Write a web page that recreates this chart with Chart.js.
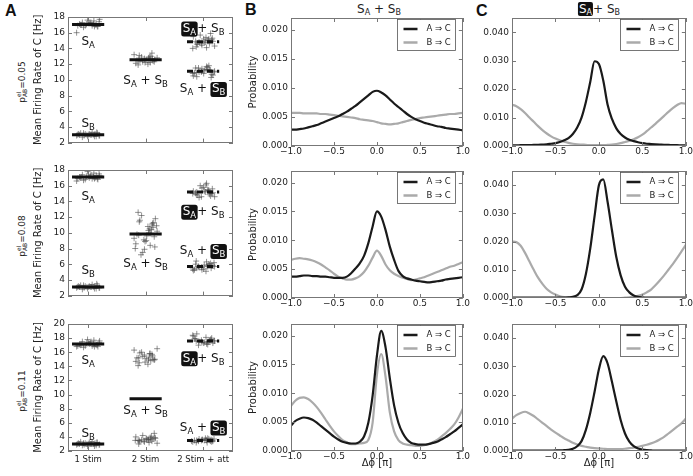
<!DOCTYPE html>
<html>
<head>
<meta charset="utf-8">
<script src="https://cdn.jsdelivr.net/npm/chart.js@4.4.1/dist/chart.umd.min.js"></script>
<style>
body{margin:0;background:#fff;width:693px;height:476px;overflow:hidden;position:relative;font-family:"DejaVu Sans",sans-serif;color:#222}
canvas{position:absolute}
.letter{position:absolute;font:bold 16px "Liberation Sans",Arial,sans-serif;color:#111}
.rowlbl{position:absolute;font-size:9px;transform:translate(-50%,-50%) rotate(-90deg);white-space:nowrap}
.title{position:absolute;font-size:12px;transform:translateX(-50%);white-space:nowrap}
.title sub{font-size:8px;vertical-align:-2px}
.bx{background:#111;color:#fff;border-radius:2px;padding:0 1px}
.ss{display:inline-flex;flex-direction:column;font-size:6px;line-height:6px;vertical-align:middle}
</style>
</head>
<body>
<div class="letter" style="left:5px;top:2px">A</div>
<div class="letter" style="left:245px;top:1px">B</div>
<div class="letter" style="left:476px;top:2px">C</div>
<div class="title" style="left:379px;top:2px">S<sub>A</sub> + S<sub>B</sub></div>
<div class="title" style="left:599px;top:2px"><span class="bx">S<sub>A</sub></span>+ S<sub>B</sub></div>
<div class="rowlbl" style="left:22px;top:82px">p<span class="ss"><span>el</span><span>AB</span></span>=0.05</div>
<div class="rowlbl" style="left:22px;top:236px">p<span class="ss"><span>el</span><span>AB</span></span>=0.08</div>
<div class="rowlbl" style="left:22px;top:391px">p<span class="ss"><span>el</span><span>AB</span></span>=0.11</div>

<script>
// ---------- panel A : firing rates ----------
var aCategories = ['1 Stim', '2 Stim', '2 Stim + att'];
var aJitter = [-0.12,0.05,0.17,-0.03,0.10,-0.18,0.02,0.14,-0.08,0.19,-0.15,0.07,-0.01,0.12,-0.20,0.04,
               0.16,-0.10,0.09,-0.05,0.20,-0.13,0.01,0.11,-0.17,0.06,-0.07,0.15,-0.02,0.13,-0.11,0.08];

// row 1  (p = 0.05)
var r1SA   = [17.0,17.3,16.8,17.1,17.5,16.9,17.2,17.0,16.7,17.4,17.1,16.9,17.6,17.0,16.0,17.2,16.8,17.3,17.1,16.9,17.7,17.0,17.2,16.8];
var r1SB   = [3.0,3.1,2.8,3.2,2.9,3.0,3.3,2.8,3.1,2.9,3.0,3.2,2.7,3.0,3.1,2.9,3.2,3.0,2.8,3.1,3.0,2.9,3.3,3.0];
var r1Sum  = [12.5,12.9,12.2,12.7,13.2,12.0,12.6,12.4,13.0,12.3,12.8,11.9,12.6,13.4,12.1,12.5,12.9,12.3,12.7,12.4,13.1,12.2,12.6,12.8];
var r1AttA = [14.8,15.3,14.5,15.0,15.7,14.3,14.9,15.2,14.6,15.5,14.1,14.8,15.1,14.4,15.9,14.7,15.0,14.2,15.4,14.9,14.6,15.2,14.0,14.8];
var r1AttB = [11.1,11.5,10.8,11.3,10.5,11.7,11.0,10.7,11.4,11.2,10.4,11.6,10.9,11.3,10.6,11.0,11.8,10.8,11.2,10.3,11.5,11.0,10.9,11.3];
var r1Means = [[1,17.05],[1,3.0],[2,12.55],[3,14.85],[3,11.1]];
var r1Labels = [[1,14.9,'SA'],[1,4.5,'SB'],[2,10.0,'SA+SB'],[3,16.6,'[SA]+SB'],[3,8.9,'SA+[SB]']];

// row 2  (p = 0.08)
var r2SA   = [17.1,17.4,16.8,17.2,17.6,16.9,17.0,17.3,16.7,17.5,17.1,16.9,17.8,17.0,16.6,17.2,16.9,17.4,17.1,16.8,17.3,17.0,17.2,16.9];
var r2SB   = [3.1,3.2,2.9,3.3,3.0,3.1,3.4,2.9,3.2,3.0,3.1,3.3,2.8,3.1,3.2,3.0,3.3,3.1,2.9,3.2,3.1,3.0,3.5,3.1];
var r2Sum  = [9.8,10.5,8.9,11.2,9.3,10.8,8.2,11.6,9.9,7.5,10.2,12.6,9.0,11.0,8.6,10.0,12.2,9.5,7.9,10.7,11.4,8.4,9.7,10.3,
              11.8,9.1,10.4,8.0,9.6,11.3,7.2,10.9];
var r2AttA = [15.2,15.6,14.8,15.4,16.0,14.6,15.1,15.8,14.9,15.3,16.3,14.5,15.0,15.7,14.7,15.2,15.5,14.9,16.1,15.1,14.6,15.4,15.0,15.3];
var r2AttB = [5.7,6.0,5.4,5.9,5.2,6.3,5.6,5.8,5.3,6.1,5.5,5.7,6.4,5.1,5.8,5.6,6.0,5.4,5.9,5.5,5.7,6.2,5.3,5.8];
var r2Means = [[1,17.1],[1,3.1],[2,9.85],[3,15.2],[3,5.7]];
var r2Labels = [[1,14.7,'SA'],[1,5.3,'SB'],[2,6.1,'SA+SB'],[3,12.75,'[SA]+SB'],[3,7.75,'SA+[SB]']];

// row 3  (p = 0.11)
var r3SA    = [17.1,17.5,16.8,17.3,17.7,16.9,17.2,17.0,16.7,17.4,17.1,16.9,17.8,17.2,16.8,17.3,17.0,17.5,17.1,16.9,17.6,17.0,17.3,16.8];
var r3SB    = [3.0,3.2,2.8,3.1,2.9,3.0,3.3,2.7,3.1,2.9,3.0,3.2,2.8,3.0,3.1,2.9,3.3,3.0,2.7,3.1,3.0,2.9,3.2,3.0];
var r3SumHi = [15.2,15.8,14.6,15.5,16.3,14.3,15.0,15.9,14.8,15.4,16.5,14.1,15.1,15.7,14.7,15.3,16.0,14.9,15.6,15.0,14.5,15.8,15.2,14.9];
var r3SumLo = [3.6,3.9,3.3,3.7,4.2,3.1,3.5,3.8,3.4,4.0,3.2,3.6,4.5,3.3,3.7,3.5,3.9,3.0,3.6,3.8,3.4,4.1,3.5,3.7];
var r3AttA  = [17.6,17.9,17.3,17.7,18.3,17.2,17.5,18.0,17.4,17.8,18.6,17.1,17.6,18.1,17.3,17.7,17.5,18.4,17.4,17.8,17.0,17.6,17.9,17.5];
var r3AttB  = [3.5,3.7,3.3,3.6,3.4,3.5,3.8,3.2,3.6,3.4,3.5,3.7,3.3,3.5,3.6,3.4,3.7,3.5,3.2,3.6,3.5,3.4,3.8,3.5];
var r3Means = [[1,17.15],[1,3.0],[2,9.4],[3,17.6],[3,3.5]];
var r3Labels = [[1,14.9,'SA'],[1,4.5,'SB'],[2,7.8,'SA+SB'],[3,15.2,'[SA]+SB'],[3,5.4,'SA+[SB]']];

// ---------- panels B and C : phase difference distributions ----------
var phi = [-1,-0.95,-0.9,-0.85,-0.8,-0.75,-0.7,-0.65,-0.6,-0.55,-0.5,-0.45,-0.4,-0.35,-0.3,-0.25,-0.2,-0.15,-0.1,-0.05,
           0,0.05,0.1,0.15,0.2,0.25,0.3,0.35,0.4,0.45,0.5,0.55,0.6,0.65,0.7,0.75,0.8,0.85,0.9,0.95,1];

var bAC1 = [0.0028,0.0028,0.0029,0.0030,0.0032,0.0034,0.0036,0.0039,0.0042,0.0045,
            0.0048,0.0051,0.0055,0.0059,0.0064,0.0069,0.0075,0.0081,0.0087,0.0093,
            0.0095,0.0092,0.0087,0.0080,0.0073,0.0067,0.0061,0.0055,0.0050,0.0046,
            0.0043,0.0040,0.0038,0.0036,0.0034,0.0033,0.0031,0.0030,0.0029,0.0028,0.0027];
var bBC1 = [0.0057,0.0057,0.0057,0.0056,0.0056,0.0056,0.0056,0.0055,0.0055,0.0054,
            0.0053,0.0052,0.0051,0.0050,0.0049,0.0048,0.0046,0.0045,0.0044,0.0043,
            0.0041,0.0039,0.0038,0.0037,0.0038,0.0039,0.0041,0.0043,0.0045,0.0046,
            0.0048,0.0049,0.0050,0.0051,0.0052,0.0053,0.0054,0.0055,0.0055,0.0056,0.0057];
var cAC1 = [0.0002,0.0002,0.0003,0.0003,0.0003,0.0004,0.0004,0.0005,0.0006,0.0008,
            0.0010,0.0014,0.0020,0.0028,0.0042,0.0065,0.0100,0.0155,0.0225,0.0298,
            0.0288,0.0230,0.0145,0.0095,0.0062,0.0042,0.0030,0.0022,0.0017,0.0013,
            0.0010,0.0008,0.0007,0.0006,0.0005,0.0004,0.0004,0.0003,0.0003,0.0002,0.0002];
var cBC1 = [0.0145,0.0140,0.0130,0.0116,0.0100,0.0085,0.0070,0.0056,0.0044,0.0034,
            0.0026,0.0020,0.0015,0.0011,0.0008,0.0006,0.0005,0.0004,0.0003,0.0003,
            0.0003,0.0003,0.0004,0.0005,0.0007,0.0010,0.0014,0.0018,0.0024,0.0031,
            0.0040,0.0052,0.0065,0.0078,0.0092,0.0106,0.0120,0.0133,0.0144,0.0151,0.0148];

var bAC2 = [0.0037,0.0037,0.0038,0.0039,0.0039,0.0038,0.0038,0.0037,0.0037,0.0036,
            0.0035,0.0035,0.0035,0.0037,0.0043,0.0051,0.0060,0.0073,0.0095,0.0124,
            0.0150,0.0141,0.0118,0.0089,0.0066,0.0047,0.0038,0.0034,0.0032,0.0030,
            0.0029,0.0028,0.0027,0.0028,0.0029,0.0030,0.0032,0.0033,0.0034,0.0035,0.0036];
var bBC2 = [0.0066,0.0068,0.0069,0.0068,0.0067,0.0065,0.0062,0.0058,0.0053,0.0048,
            0.0042,0.0037,0.0034,0.0032,0.0032,0.0034,0.0038,0.0045,0.0056,0.0070,
            0.0082,0.0073,0.0058,0.0048,0.0042,0.0038,0.0035,0.0033,0.0031,0.0032,
            0.0034,0.0036,0.0039,0.0042,0.0045,0.0048,0.0051,0.0054,0.0056,0.0059,0.0062];
var cAC2 = [0.0001,0.0001,0.0001,0.0001,0.0001,0.0001,0.0001,0.0001,0.0001,0.0001,
            0.0001,0.0001,0.0001,0.0002,0.0004,0.0010,0.0030,0.0085,0.0175,0.0290,
            0.0400,0.0420,0.0340,0.0240,0.0145,0.0080,0.0040,0.0020,0.0009,0.0004,
            0.0002,0.0001,0.0001,0.0001,0.0001,0.0001,0.0001,0.0001,0.0001,0.0001,0.0001];
var cBC2 = [0.0200,0.0198,0.0185,0.0160,0.0130,0.0100,0.0072,0.0050,0.0032,0.0020,
            0.0012,0.0006,0.0003,0.0002,0.0001,0.0001,0.0000,0.0000,0.0000,0.0000,
            0.0000,0.0000,0.0000,0.0000,0.0000,0.0000,0.0001,0.0002,0.0005,0.0008,
            0.0012,0.0020,0.0030,0.0045,0.0062,0.0080,0.0100,0.0120,0.0142,0.0165,0.0188];

var bAC3 = [0.0044,0.0052,0.0056,0.0058,0.0057,0.0054,0.0049,0.0043,0.0037,0.0031,
            0.0025,0.0020,0.0016,0.0014,0.0013,0.0013,0.0016,0.0025,0.0049,0.0096,
            0.0165,0.0208,0.0180,0.0126,0.0079,0.0049,0.0031,0.0020,0.0014,0.0012,
            0.0011,0.0011,0.0012,0.0014,0.0016,0.0020,0.0024,0.0029,0.0034,0.0040,0.0046];
var bBC3 = [0.0078,0.0087,0.0092,0.0093,0.0090,0.0084,0.0076,0.0066,0.0055,0.0044,
            0.0034,0.0026,0.0019,0.0015,0.0012,0.0012,0.0013,0.0014,0.0019,0.0049,
            0.0132,0.0168,0.0129,0.0067,0.0034,0.0019,0.0013,0.0011,0.0010,0.0009,
            0.0009,0.0010,0.0012,0.0015,0.0019,0.0025,0.0031,0.0038,0.0046,0.0058,0.0073];
var cAC3 = [0.0001,0.0001,0.0001,0.0001,0.0001,0.0001,0.0001,0.0001,0.0001,0.0001,
            0.0002,0.0002,0.0003,0.0004,0.0008,0.0017,0.0035,0.0075,0.0135,0.0210,
            0.0290,0.0336,0.0310,0.0245,0.0175,0.0110,0.0062,0.0033,0.0017,0.0009,
            0.0005,0.0003,0.0002,0.0001,0.0001,0.0001,0.0001,0.0001,0.0001,0.0001,0.0001];
var cBC3 = [0.0115,0.0127,0.0135,0.0139,0.0133,0.0124,0.0112,0.0100,0.0088,0.0076,
            0.0065,0.0055,0.0045,0.0037,0.0029,0.0023,0.0018,0.0015,0.0012,0.0010,
            0.0009,0.0008,0.0007,0.0007,0.0007,0.0007,0.0008,0.0010,0.0012,0.0015,
            0.0018,0.0022,0.0027,0.0033,0.0041,0.0050,0.0062,0.0074,0.0086,0.0098,0.0115];

var seriesNames = ['A \u21D2 C', 'B \u21D2 C'];

Chart.defaults.font.family = '"DejaVu Sans", sans-serif';
Chart.defaults.font.size = 9;
Chart.defaults.color = '#222';

var FRAME = '#777';
var FONT = '"DejaVu Sans", sans-serif';
var BIG = '12px ' + FONT, SMALL = '8.5px ' + FONT;

function makeCanvas(L, T, W, H) {
	var c = document.createElement('canvas');
	c.width = W; c.height = H;
	c.style.left = L + 'px'; c.style.top = T + 'px';
	document.body.appendChild(c);
	return c.getContext('2d');
}

// one term "S_A" / "S_B", optionally in a black box; returns its width
function drawTerm(ctx, x, base, sub, boxed, measureOnly) {
	ctx.font = BIG;
	var ws = ctx.measureText('S').width;
	ctx.font = SMALL;
	var wb = ctx.measureText(sub).width;
	var w = ws + wb + (boxed ? 2 : 0);
	if (measureOnly) return w;
	if (boxed) {
		ctx.fillStyle = '#111';
		ctx.beginPath();
		ctx.roundRect(x - 0.5, base - 10.5, w + 1, 15, 2.5);
		ctx.fill();
		ctx.fillStyle = '#fff';
		x += 1;
	} else ctx.fillStyle = '#111';
	ctx.font = BIG;
	ctx.fillText('S', x, base);
	ctx.font = SMALL;
	ctx.fillText(sub, x + ws, base + 3);
	return w;
}

function drawLabel(ctx, cx, cy, code) {
	var parts = code.split('+');
	var seps = [];
	var total = 0;
	parts.forEach(function (p, i) {
		total += drawTerm(ctx, 0, 0, p.indexOf('A') >= 0 ? 'A' : 'B', p.charAt(0) === '[', true);
		if (i > 0) {
			var s = parts[i - 1].charAt(0) === '[' ? '+ ' : ' + ';
			ctx.font = BIG;
			seps.push(s);
			total += ctx.measureText(s).width;
		}
	});
	var x = cx - total / 2, base = cy + 4;
	parts.forEach(function (p, i) {
		if (i > 0) {
			ctx.font = BIG; ctx.fillStyle = '#111';
			ctx.fillText(seps[i - 1], x, base);
			x += ctx.measureText(seps[i - 1]).width;
		}
		x += drawTerm(ctx, x, base, p.indexOf('A') >= 0 ? 'A' : 'B', p.charAt(0) === '[', false);
	});
}

function decor(labels, legend) {
	return {
		id: 'decor',
		afterDraw: function (chart) {
			var ctx = chart.ctx, a = chart.chartArea;
			var xs = chart.scales.x, ys = chart.scales.y;
			ctx.save();
			ctx.strokeStyle = FRAME; ctx.lineWidth = 1;
			ctx.beginPath();
			xs.ticks.forEach(function (t) {
				var px = Math.round(xs.getPixelForValue(t.value)) + 0.5;
				ctx.moveTo(px, a.bottom); ctx.lineTo(px, a.bottom - 4);
				ctx.moveTo(px, a.top); ctx.lineTo(px, a.top + 4);
			});
			ys.ticks.forEach(function (t) {
				var py = Math.round(ys.getPixelForValue(t.value)) + 0.5;
				ctx.moveTo(a.left, py); ctx.lineTo(a.left + 4, py);
				ctx.moveTo(a.right, py); ctx.lineTo(a.right - 4, py);
			});
			ctx.stroke();
			ctx.strokeRect(Math.round(a.left) + 0.5, Math.round(a.top) + 0.5,
				Math.round(a.right - a.left) - 1, Math.round(a.bottom - a.top) - 1);

			if (labels) {
				ctx.textBaseline = 'alphabetic';
				labels.forEach(function (l) {
					drawLabel(ctx, xs.getPixelForValue(l[0]), ys.getPixelForValue(l[1]), l[2]);
				});
			}
			if (legend) {
				var w = 58, h = 31;
				var x0 = Math.round(a.right) - 8 - w + 0.5, y0 = Math.round(a.top) + 1.5;
				ctx.fillStyle = '#fff';
				ctx.fillRect(x0, y0, w, h);
				ctx.strokeStyle = '#555'; ctx.lineWidth = 0.8;
				ctx.strokeRect(x0, y0, w, h);
				ctx.font = '8.5px ' + FONT;
				ctx.textBaseline = 'middle';
				chart.data.datasets.forEach(function (ds, i) {
					var y = y0 + 9.5 + i * 13.5;
					ctx.strokeStyle = ds.borderColor; ctx.lineWidth = 2.5;
					ctx.beginPath(); ctx.moveTo(x0 + 6, y); ctx.lineTo(x0 + 20, y); ctx.stroke();
					ctx.fillStyle = '#222';
					ctx.fillText(ds.label, x0 + 29, y);
				});
			}
			ctx.restore();
		}
	};
}

function rateChart(top, bottom, yMax, clouds, means, labels, lastRow) {
	var pt = 12, xh = lastRow ? 20 : 6;
	var ctx = makeCanvas(28, top - pt, 212, (bottom - top) + pt + xh);
	var datasets = [];
	means.forEach(function (m) {
		datasets.push({
			data: [{x: m[0] - 0.28, y: m[1]}, {x: m[0] + 0.28, y: m[1]}],
			showLine: true, borderColor: '#111', borderWidth: 3,
			borderDash: m[0] === 3 ? [6, 4] : [], pointRadius: 0, order: 0
		});
	});
	clouds.forEach(function (c, k) {
		datasets.push({
			data: c[1].map(function (v, i) {
				return {x: c[0] + aJitter[(i + k * 5) % aJitter.length], y: v};
			}),
			pointStyle: 'cross', pointRadius: 3, borderWidth: 0.9,
			borderColor: 'rgba(70,70,70,0.65)', order: 1
		});
	});
	return new Chart(ctx, {
		type: 'scatter',
		data: {datasets: datasets},
		options: {
			responsive: false, animation: false, devicePixelRatio: 1,
			layout: {padding: {top: pt, right: 7, left: 0, bottom: 0}, autoPadding: false},
			plugins: {legend: {display: false}, tooltip: {enabled: false}},
			scales: {
				x: {
					type: 'linear', min: 0.65, max: 3.52,
					grid: {display: false, drawTicks: false}, border: {display: false},
					afterBuildTicks: function (s) { s.ticks = aCategories.map(function (c, i) { return {value: i + 1}; }); },
					afterFit: function (s) { s.height = xh; },
					ticks: {display: lastRow, padding: 4, font: {size: 8.5}, maxRotation: 0, autoSkip: false,
						callback: function (v, i) { return aCategories[i]; }}
				},
				y: {
					min: 2, max: yMax,
					grid: {display: false, drawTicks: false}, border: {display: false},
					afterFit: function (s) { s.width = 40; },
					ticks: {stepSize: 2, padding: 3, includeBounds: false},
					title: {display: true, text: 'Mean Firing Rate of C [Hz]', font: {size: 10}, padding: {top: 4, bottom: 0}}
				}
			}
		},
		plugins: [decor(labels, false)]
	});
}

function phiChart(L, yw, W, pr, top, bottom, yMax, yStep, ac, bc, yTitle, lastRow) {
	var pt = 12, xh = lastRow ? 20 : 14;
	var ctx = makeCanvas(L, top - pt, W, (bottom - top) + pt + xh);
	function pts(arr) { return phi.map(function (x, i) { return {x: x, y: arr[i]}; }); }
	return new Chart(ctx, {
		type: 'line',
		data: {
			datasets: [
				{label: seriesNames[0], data: pts(ac), borderColor: '#1a1a1a', borderWidth: 2.2,
				 pointRadius: 0, cubicInterpolationMode: 'monotone', fill: false},
				{label: seriesNames[1], data: pts(bc), borderColor: '#aaaaaa', borderWidth: 2.2,
				 pointRadius: 0, cubicInterpolationMode: 'monotone', fill: false}
			]
		},
		options: {
			responsive: false, animation: false, devicePixelRatio: 1,
			layout: {padding: {top: pt, right: pr, left: 0, bottom: 0}, autoPadding: false},
			plugins: {legend: {display: false}, tooltip: {enabled: false}},
			scales: {
				x: {
					type: 'linear', min: -1, max: 1,
					grid: {display: false, drawTicks: false}, border: {display: false},
					afterFit: function (s) { s.height = xh; },
					ticks: {stepSize: 0.5, padding: 0, maxRotation: 0, autoSkip: false, includeBounds: false,
						callback: function (v) { return (v < 0 ? '\u2212' : '') + Math.abs(v).toFixed(1); }},
					title: {display: lastRow, text: '\u0394\u03D5 [\u03C0]', font: {size: 10}, padding: {top: 0, bottom: 2}}
				},
				y: {
					min: 0, max: yMax,
					grid: {display: false, drawTicks: false}, border: {display: false},
					afterFit: function (s) { s.width = yw; },
					ticks: {stepSize: yStep, padding: 3, includeBounds: false,
						callback: function (v) { return v.toFixed(3); }},
					title: {display: yTitle, text: 'Probability', font: {size: 10}, padding: {top: 4, bottom: 0}}
				}
			}
		},
		plugins: [decor(null, true)]
	});
}

// panel A
rateChart(17, 145, 18, [[1, r1SA], [1, r1SB], [2, r1Sum], [3, r1AttA], [3, r1AttB]], r1Means, r1Labels, false);
rateChart(170, 298, 18, [[1, r2SA], [1, r2SB], [2, r2Sum], [3, r2AttA], [3, r2AttB]], r2Means, r2Labels, false);
rateChart(324, 451, 20, [[1, r3SA], [1, r3SB], [2, r3SumHi], [2, r3SumLo], [3, r3AttA], [3, r3AttB]], r3Means, r3Labels, true);

// panel B
phiChart(243, 48, 227, 3, 18, 146, 0.022, 0.005, bAC1, bBC1, true, false);
phiChart(243, 48, 227, 3, 171, 298, 0.022, 0.005, bAC2, bBC2, true, false);
phiChart(243, 48, 227, 3, 324, 451, 0.022, 0.005, bAC3, bBC3, true, true);

// panel C
phiChart(470, 42, 223, 1, 18, 146, 0.045, 0.01, cAC1, cBC1, false, false);
phiChart(470, 42, 223, 1, 171, 298, 0.045, 0.01, cAC2, cBC2, false, false);
phiChart(470, 42, 223, 1, 324, 451, 0.045, 0.01, cAC3, cBC3, false, true);
</script>
</body>
</html>
